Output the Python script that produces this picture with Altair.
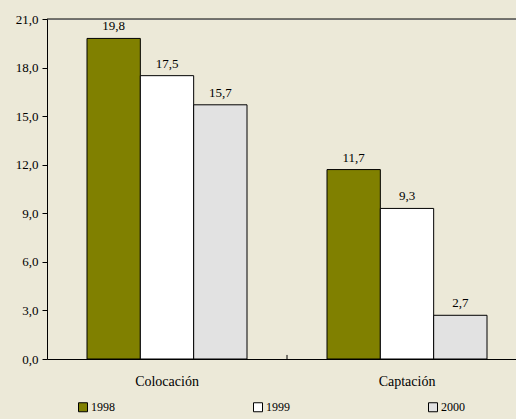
import altair as alt
import pandas as pd

categories = ["Colocación", "Captación"]
years = ["1998", "1999", "2000"]
v1998 = [19.8, 11.7]
v1999 = [17.5, 9.3]
v2000 = [15.7, 2.7]
y_ticks = [0, 3, 6, 9, 12, 15, 18, 21]

rows = []
for yr, vals in zip(years, [v1998, v1999, v2000]):
    for c, v in zip(categories, vals):
        rows.append({"cat": c, "year": yr, "value": v})
df = pd.DataFrame(rows)

FONT = "Liberation Serif"
BG = "#ECE9D8"

xscale = alt.Scale(range=[0, 480], paddingInner=1 / 3, paddingOuter=1 / 6)

x_enc = alt.X(
    "cat:N",
    sort=categories,
    scale=xscale,
    axis=alt.Axis(
        title=None, labelAngle=0, ticks=False, labelPadding=15,
        domainColor="black", labelFont=FONT, labelFontSize=14, labelColor="black",
    ),
)
xo_enc = alt.XOffset("year:N", sort=years, scale=alt.Scale(paddingInner=0, paddingOuter=0))
y_enc = alt.Y(
    "value:Q",
    scale=alt.Scale(domain=[0, 21], nice=False),
    axis=alt.Axis(
        title=None, values=y_ticks, grid=False, tickSize=5, tickColor="black",
        domainColor="black", labelPadding=4, labelFont=FONT, labelFontSize=13,
        labelColor="black",
        labelExpr="replace(format(datum.value, '.1f'), '.', ',')",
    ),
)

base = alt.Chart(df)

bars = base.mark_bar(stroke="black", strokeWidth=1).encode(
    x=x_enc,
    xOffset=xo_enc,
    y=y_enc,
    color=alt.Color(
        "year:N",
        sort=years,
        scale=alt.Scale(domain=years, range=["#808000", "#FFFFFF", "#E2E2E2"]),
        legend=alt.Legend(
            title=None, orient="none", legendX=30, legendY=382, direction="horizontal",
            symbolType="square", symbolSize=81, symbolStrokeColor="black",
            symbolStrokeWidth=1, symbolOpacity=1, labelFont=FONT, labelFontSize=12,
            labelColor="black", labelOffset=2, columnPadding=136,
        ),
    ),
)

labels = base.transform_calculate(
    label="replace(format(datum.value, '.1f'), '.', ',')"
).mark_text(baseline="bottom", dy=-5, font=FONT, fontSize=13, color="black").encode(
    x=alt.X("cat:N", sort=categories, scale=xscale),
    xOffset=xo_enc,
    y=alt.Y("value:Q"),
    text="label:N",
)

top_line = alt.Chart(pd.DataFrame({"v": [21]})).mark_rule(color="black", strokeWidth=1).encode(
    y=alt.Y("v:Q")
)

sep = alt.Chart(pd.DataFrame({"cat": ["Colocación"], "y0": [0], "y1": [0.25]})).mark_rule(
    color="black", strokeWidth=1, xOffset=40
).encode(
    x=alt.X("cat:N", sort=categories, scale=xscale, bandPosition=1),
    y="y0:Q",
    y2="y1:Q",
)

chart = alt.layer(bars, labels, top_line, sep).properties(
    width=469,
    height=340,
    background=BG,
    padding={"left": 47, "top": 19, "right": 0, "bottom": 60},
    autosize=alt.AutoSizeParams(type="none"),
).configure_view(stroke=None, fill=BG).configure(
    font=FONT,
    axis=alt.AxisConfig(labelFont=FONT),
    legend=alt.LegendConfig(labelFont=FONT),
    text=alt.MarkConfig(font=FONT),
)

chart.save("out.html", embed_options={"renderer": "svg", "actions": False})
